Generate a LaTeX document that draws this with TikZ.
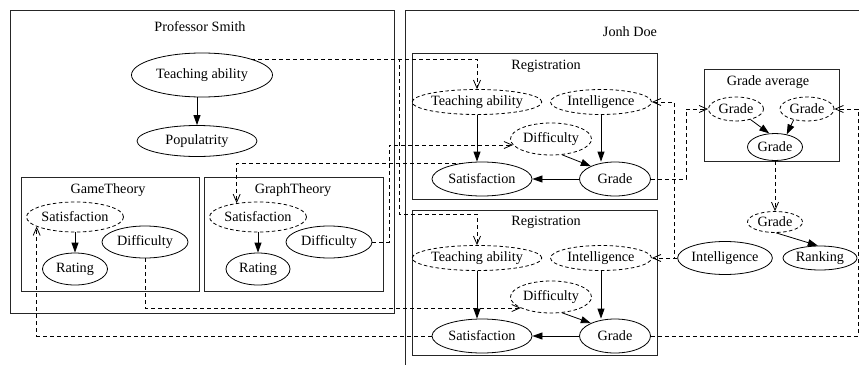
\documentclass[tikz,border=0pt]{standalone}
\usepackage{fontspec}
\setmainfont{Liberation Serif}
\usetikzlibrary{shapes.geometric,arrows.meta}
\begin{document}
\begin{tikzpicture}[x=1pt,y=-1pt,
  font=\fontsize{14.2pt}{16pt}\selectfont,
  box/.style={draw=black!85,line width=1pt},
  ttl/.style={inner sep=0pt},
  ell/.style={ellipse,draw,inner sep=0pt,line width=0.8pt},
  hid/.style={ell,dash pattern=on 3.5pt off 2.5pt},
  arr/.style={line width=0.8pt,-{Triangle[length=10pt,width=7pt]}},
  dep/.style={line width=0.8pt,dash pattern=on 4pt off 3pt,-{Straight Barb[length=8pt,width=7pt]}}]
\useasboundingbox (0,0) rectangle (859,364);
\clip (0,0) rectangle (859,364);

% Professor Smith
\draw[box] (10,10) rectangle (394,313);
\node[ttl] (tSmith) at (200,27) {Professor Smith};
\node[ell,minimum width=141pt,minimum height=44pt] (sTA) at (202,75) {Teaching ability};
\node[ell,minimum width=120pt,minimum height=31pt] (sPop) at (197,141) {Populatrity};

\draw[box] (21,177) rectangle (199,291);
\node[ttl] (tGame) at (108,190) {GameTheory};
\node[hid,minimum width=97pt,minimum height=30pt] (gSat) at (75,217) {Satisfaction};
\node[ell,minimum width=65pt,minimum height=32pt] (gRat) at (75,269) {Rating};
\node[ell,minimum width=86pt,minimum height=32pt] (gDif) at (145,242) {Difficulty};

\draw[box] (204,177) rectangle (383,291);
\node[ttl] (tGraph) at (293,190) {GraphTheory};
\node[hid,minimum width=97pt,minimum height=30pt] (hSat) at (258,217) {Satisfaction};
\node[ell,minimum width=64pt,minimum height=32pt] (hRat) at (258,269) {Rating};
\node[ell,minimum width=86pt,minimum height=32pt] (hDif) at (329,242) {Difficulty};

% Jonh Doe
\draw[box] (405,10) rectangle (880,380);
\node[ttl] (tJohn) at (630,32) {Jonh Doe};

\draw[box] (412,53) rectangle (657,199);
\node[ttl] (tReg1) at (546,66) {Registration};
\node[hid,minimum width=120pt,minimum height=25pt] (r1TA) at (477,102) {Teaching ability};
\node[hid,minimum width=101pt,minimum height=25pt] (r1In) at (601,102) {Intelligence};
\node[hid,minimum width=81pt,minimum height=32pt] (r1Di) at (551,139) {Difficulty};
\node[ell,minimum width=100pt,minimum height=34pt] (r1Sa) at (482,179) {Satisfaction};
\node[ell,minimum width=71pt,minimum height=34pt] (r1Gr) at (615,179) {Grade};

\draw[box] (412,210) rectangle (657,355);
\node[ttl] (tReg2) at (546,222) {Registration};
\node[hid,minimum width=120pt,minimum height=25pt] (r2TA) at (477,258) {Teaching ability};
\node[hid,minimum width=101pt,minimum height=25pt] (r2In) at (601,258) {Intelligence};
\node[hid,minimum width=81pt,minimum height=32pt] (r2Di) at (551,297) {Difficulty};
\node[ell,minimum width=100pt,minimum height=34pt] (r2Sa) at (482,336) {Satisfaction};
\node[ell,minimum width=71pt,minimum height=34pt] (r2Gr) at (615,336) {Grade};

\draw[box] (704,69) rectangle (839,161);
\node[ttl] (tAvg) at (768,82) {Grade average};
\node[hid,minimum width=55pt,minimum height=24pt] (aG1) at (736,109) {Grade};
\node[hid,minimum width=54pt,minimum height=24pt] (aG2) at (807,109) {Grade};
\node[ell,minimum width=55pt,minimum height=27pt] (aG) at (775,147) {Grade};

\node[hid,minimum width=55pt,minimum height=21pt] (oG) at (775,222) {Grade};
\node[ell,minimum width=74pt,minimum height=24pt] (oRank) at (820,258) {Ranking};
\node[ell,minimum width=76pt,minimum height=33pt] (oInt) at (725,258) {Intelligence};

% bend coordinates
\coordinate (bA) at (399,214);
\coordinate (bB) at (389,0);
\coordinate (bC) at (674,0);
\coordinate (bD) at (686,0);
\coordinate (bE) at (858,0);

% solid arrows
\draw[arr] (sTA.south -| sPop) -- (sPop);
\draw[arr] (gSat) -- (gRat);
\draw[arr] (hSat) -- (hRat);
\draw[arr] (r1TA) -- (r1TA |- r1Sa.north);
\draw[arr] (r1In) -- (r1In |- r1Gr.north);
\draw[arr] (r1Di.-55) -- (r1Gr.152);
\draw[arr] (r1Gr) -- (r1Sa);
\draw[arr] (r2TA) -- (r2TA |- r2Sa.north);
\draw[arr] (r2In) -- (r2In |- r2Gr.north);
\draw[arr] (r2Di.-55) -- (r2Gr.152);
\draw[arr] (r2Gr) -- (r2Sa);
\draw[arr] (aG1.-36) -- (aG.113);
\draw[arr] (aG2.-141) -- (aG.47);
\draw[arr] (oG.-84) -- (oRank.100);

% dashed dependencies
\draw[dep] (sTA.18) -| (r1TA.north);
\draw[dep] (sTA.18) -| (bA) -| (r2TA.north);
\draw[dep] (hDif.east) -- (hDif.east -| bB) |- (r1Di.189);
\draw[dep] (r1Sa.140) -| (hSat.147);
\draw[dep] (gDif.south) |- (r2Di.200);
\draw[dep] (r2Sa.west) -| (gSat.194);
\draw[dep] (oInt.west) -- (oInt.west -| bC) |- (r1In.east);
\draw[dep] (oInt.west) -- (r2In.east);
\draw[dep] (r1Gr.east) -- (r1Gr.east -| bD) |- (aG1.west);
\draw[dep] (r2Gr.east) -- (r2Gr.east -| bE) |- (aG2.east);
\draw[dep] (aG) -- (oG);
\end{tikzpicture}
\end{document}
